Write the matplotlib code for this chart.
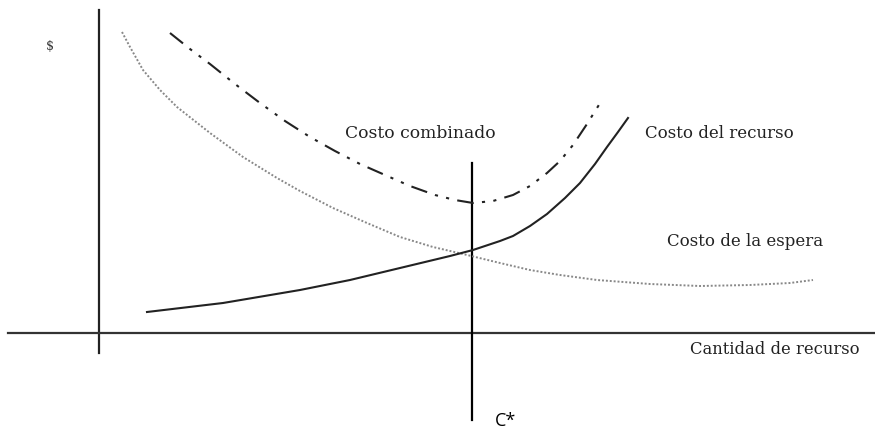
import numpy as np
import matplotlib
matplotlib.use('Agg')
import matplotlib.pyplot as plt

# puntos (pixeles: x a la derecha, y hacia abajo)
espera_x = [122, 130, 143, 160, 177, 210, 243, 277, 300, 333, 367, 400, 433, 463, 500, 530, 560, 597, 650, 700, 750, 790, 813]
espera_y = [32, 47, 70, 90, 107, 133, 157, 178, 191, 208, 223, 237, 247, 254, 263, 270, 275, 280, 284, 286, 285, 283, 280]

recurso_x = [147, 223, 300, 350, 400, 450, 473, 500, 513, 530, 547, 565, 580, 595, 607, 618, 628]
recurso_y = [312, 303, 290, 280, 268, 256, 250, 241, 236, 226, 214, 198, 183, 164, 147, 132, 118]

combinado_x = [170, 190, 210, 235, 260, 285, 310, 335, 360, 385, 410, 435, 455, 473, 493, 513, 530, 547, 560, 573, 587, 602]
combinado_y = [33, 49, 64, 84, 103, 121, 137, 151, 164, 175, 186, 195, 200, 203, 201, 195, 186, 173, 161, 145, 124, 100]

c_opt = 472

fig = plt.figure(figsize=(8.75, 4.29), dpi=100)
ax = fig.add_axes([0, 0, 1, 1])
ax.set_xlim(0, 875)
ax.set_ylim(429, 0)
ax.axis('off')

# ejes
ax.plot([99, 99], [10, 353], color='#222222', lw=1.6)
ax.plot([8, 875], [333, 333], color='#333333', lw=1.6)
ax.plot([c_opt, c_opt], [163, 420], color='black', lw=1.6)

ax.plot(espera_x, espera_y, color='#888888', lw=1.4, linestyle=(0, (1, 1)))
ax.plot(recurso_x, recurso_y, color='#222222', lw=1.5)
ax.plot(combinado_x, combinado_y, color='#222222', lw=1.5, linestyle=(0, (8, 4, 1.5, 4, 1.5, 4)))

serif = 'DejaVu Serif'
ax.text(50, 47, '$', fontsize=9, family=serif, ha='center', va='center', color='#333333')
ax.text(345, 133, 'Costo combinado', fontsize=12.3, family=serif, ha='left', va='center', color='#222222')
ax.text(645, 133, 'Costo del recurso', fontsize=12, family=serif, ha='left', va='center', color='#222222')
ax.text(667, 242, 'Costo de la espera', fontsize=12, family=serif, ha='left', va='center', color='#222222')
ax.text(690, 349, 'Cantidad de recurso', fontsize=11.8, family=serif, ha='left', va='center', color='#222222')
ax.text(495, 421, 'C*', fontsize=13, family='Open Sans', ha='left', va='center', color='black')

fig.savefig('out.png', dpi=100)
